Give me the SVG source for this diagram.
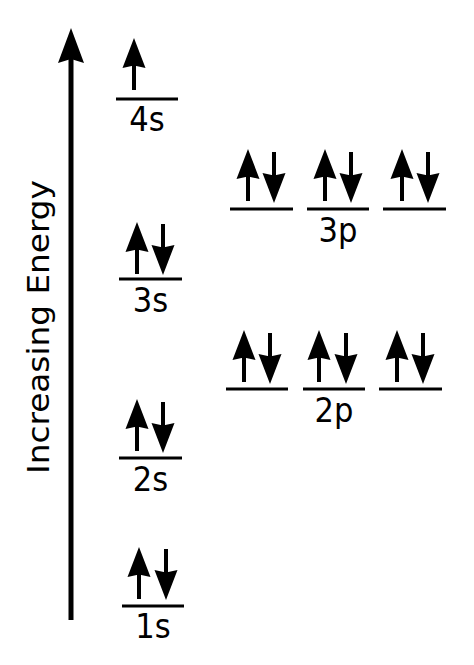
<svg xmlns="http://www.w3.org/2000/svg" xmlns:xlink="http://www.w3.org/1999/xlink" width="474" height="665" viewBox="0 0 474 665">
<style>
.lvl{stroke:#000;stroke-width:3;fill:none}
.lbl{font-family:"DejaVu Sans Condensed","DejaVu Sans",sans-serif;font-stretch:condensed;font-size:34px;fill:#000;text-anchor:middle}
</style>
<defs>
<g id="up"><path d="M0,0 L11.5,30 L0,27.5 L-11.5,30 Z" fill="#000"/><rect x="-2" y="22" width="4" height="30" fill="#000"/></g>
<g id="down"><path d="M0,51 L11.5,21 L0,23.5 L-11.5,21 Z" fill="#000"/><rect x="-2" y="0" width="4" height="29" fill="#000"/></g>
</defs>
<rect width="474" height="665" fill="#fff"/>
<g id="energy-axis">
<rect x="68.5" y="58" width="5" height="562" fill="#000"/>
<path d="M71,28 L84,63 L71,59 L58,63 Z" fill="#000"/>
<text transform="translate(49,474) rotate(-90)" font-family="DejaVu Sans, sans-serif" font-size="30" textLength="294" lengthAdjust="spacingAndGlyphs">Increasing Energy</text>
</g>
<g id="orb-4s">
<use xlink:href="#up" x="134" y="38"/>
<line class="lvl" x1="116" y1="99" x2="178" y2="99"/>
<text class="lbl" x="147" y="131">4s</text>
</g>
<g id="orb-3s">
<use xlink:href="#up" x="137" y="222"/>
<use xlink:href="#down" x="163" y="224"/>
<line class="lvl" x1="119" y1="279" x2="182" y2="279"/>
<text class="lbl" x="150.5" y="312">3s</text>
</g>
<g id="orb-2s">
<use xlink:href="#up" x="137" y="399"/>
<use xlink:href="#down" x="163" y="402"/>
<line class="lvl" x1="119" y1="458" x2="182" y2="458"/>
<text class="lbl" x="150.5" y="491">2s</text>
</g>
<g id="orb-1s">
<use xlink:href="#up" x="139" y="547"/>
<use xlink:href="#down" x="166" y="549"/>
<line class="lvl" x1="122" y1="606" x2="184" y2="606"/>
<text class="lbl" x="153" y="638">1s</text>
</g>
<g id="orb-3p">
<use xlink:href="#up" x="248" y="149"/>
<use xlink:href="#down" x="274" y="152"/>
<line class="lvl" x1="230" y1="209" x2="293" y2="209"/>
<use xlink:href="#up" x="325" y="149"/>
<use xlink:href="#down" x="351" y="152"/>
<line class="lvl" x1="307" y1="209" x2="369" y2="209"/>
<use xlink:href="#up" x="402" y="149"/>
<use xlink:href="#down" x="428" y="152"/>
<line class="lvl" x1="383" y1="209" x2="446" y2="209"/>
<text class="lbl" x="338" y="242">3p</text>
</g>
<g id="orb-2p">
<use xlink:href="#up" x="244" y="330"/>
<use xlink:href="#down" x="270" y="333"/>
<line class="lvl" x1="226" y1="389" x2="288" y2="389"/>
<use xlink:href="#up" x="319" y="330"/>
<use xlink:href="#down" x="346" y="333"/>
<line class="lvl" x1="303" y1="389" x2="365" y2="389"/>
<use xlink:href="#up" x="397" y="330"/>
<use xlink:href="#down" x="423" y="333"/>
<line class="lvl" x1="379" y1="389" x2="442" y2="389"/>
<text class="lbl" x="334" y="422">2p</text>
</g>
</svg>
